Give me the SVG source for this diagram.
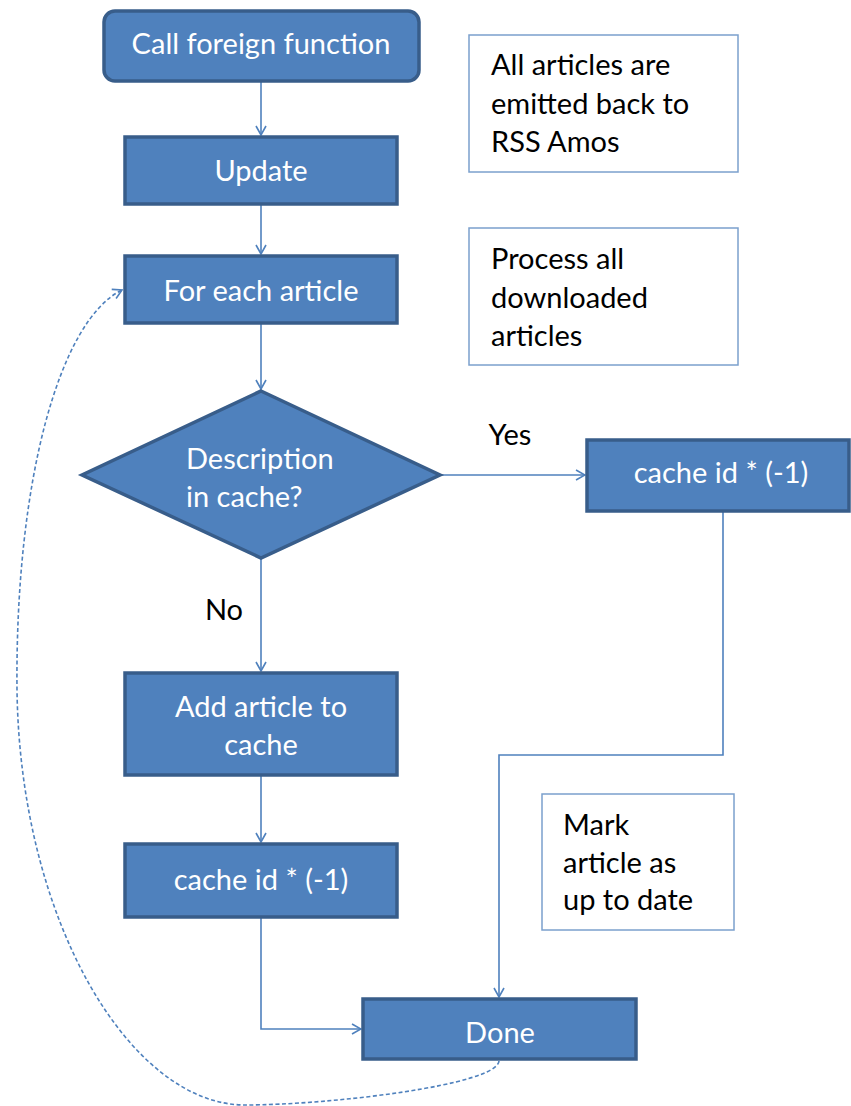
<svg xmlns="http://www.w3.org/2000/svg" width="851" height="1106" viewBox="0 0 851 1106">
  <defs>
    <marker id="arrow" viewBox="0 0 12 12" refX="11" refY="6" markerWidth="12" markerHeight="12" markerUnits="userSpaceOnUse" orient="auto">
      <path d="M2,1 L11,6 L2,11" fill="none" stroke="#4F81BD" stroke-width="1.6"/>
    </marker>
    <style>
      .step { fill: #4F81BD; stroke: #385D8A; stroke-width: 3.5; }
      .note { fill: #FFFFFF; stroke: #7BA0CD; stroke-width: 1.5; }
      .lbl { font-family: Lato, "Liberation Sans", sans-serif; font-size: 29px; fill: #FFFFFF; text-anchor: middle; }
      .txt { font-family: Lato, "Liberation Sans", sans-serif; font-size: 29px; fill: #000000; }
      .link { fill: none; stroke: #4F81BD; stroke-width: 1.6; }
      .loop { fill: none; stroke: #4F81BD; stroke-width: 1.6; stroke-dasharray: 4 2.5; }
    </style>
  </defs>

  <rect width="851" height="1106" fill="#FFFFFF"/>

  <!-- connectors -->
  <g id="connectors">
    <line class="link" x1="261" y1="81" x2="261" y2="135" marker-end="url(#arrow)"/>
    <line class="link" x1="261" y1="205" x2="261" y2="254" marker-end="url(#arrow)"/>
    <line class="link" x1="261" y1="324" x2="261" y2="389" marker-end="url(#arrow)"/>
    <line class="link" x1="441" y1="475" x2="585" y2="475" marker-end="url(#arrow)"/>
    <line class="link" x1="261" y1="559" x2="261" y2="671" marker-end="url(#arrow)"/>
    <line class="link" x1="261" y1="776" x2="261" y2="842" marker-end="url(#arrow)"/>
    <polyline class="link" points="261,918 261,1029 361,1029" marker-end="url(#arrow)"/>
    <polyline class="link" points="723,512 723,755 499,755 499,997" marker-end="url(#arrow)"/>
    <path class="loop" d="M499,1061 C497,1085 330,1105 245,1105 C130,1105 20,920 17,690 C15,480 60,320 122,290" marker-end="url(#arrow)"/>
  </g>

  <g id="call-foreign-function">
    <rect class="step" x="104" y="11" width="315" height="70" rx="11"/>
    <text class="lbl" x="261" y="54">Call foreign function</text>
  </g>

  <g id="update">
    <rect class="step" x="125" y="137" width="272" height="67"/>
    <text class="lbl" x="261" y="181">Update</text>
  </g>

  <g id="for-each-article">
    <rect class="step" x="125" y="256" width="272" height="67"/>
    <text class="lbl" x="261" y="301">For each article</text>
  </g>

  <g id="description-in-cache">
    <polygon class="step" points="261,391 440,475 261,558 82,475"/>
    <text class="lbl" style="text-anchor:start" x="186" y="469">Description</text>
    <text class="lbl" style="text-anchor:start" x="186" y="507">in cache?</text>
  </g>

  <g id="label-yes">
    <text class="txt" x="510" y="445" text-anchor="middle">Yes</text>
  </g>

  <g id="label-no">
    <text class="txt" x="224" y="620" text-anchor="middle">No</text>
  </g>

  <g id="cache-id-yes">
    <rect class="step" x="587" y="440" width="262" height="71"/>
    <text class="lbl" x="721" y="483">cache id * (-1)</text>
  </g>

  <g id="add-article-to-cache">
    <rect class="step" x="125" y="673" width="272" height="102"/>
    <text class="lbl" x="261" y="717">Add article to</text>
    <text class="lbl" x="261" y="755">cache</text>
  </g>

  <g id="cache-id-no">
    <rect class="step" x="125" y="844" width="272" height="73"/>
    <text class="lbl" x="261" y="890">cache id * (-1)</text>
  </g>

  <g id="done">
    <rect class="step" x="363" y="999" width="273" height="60"/>
    <text class="lbl" x="500" y="1043">Done</text>
  </g>

  <g id="note-emitted">
    <rect class="note" x="469" y="35" width="269" height="137"/>
    <text class="txt" x="491" y="75">All articles are</text>
    <text class="txt" x="491" y="114">emitted back to</text>
    <text class="txt" x="491" y="152">RSS Amos</text>
  </g>

  <g id="note-process">
    <rect class="note" x="469" y="228" width="269" height="137"/>
    <text class="txt" x="491" y="269">Process all</text>
    <text class="txt" x="491" y="308">downloaded</text>
    <text class="txt" x="491" y="346">articles</text>
  </g>

  <g id="note-mark">
    <rect class="note" x="542" y="794" width="192" height="136"/>
    <text class="txt" x="563" y="835">Mark</text>
    <text class="txt" x="563" y="873">article as</text>
    <text class="txt" x="563" y="910">up to date</text>
  </g>
</svg>
